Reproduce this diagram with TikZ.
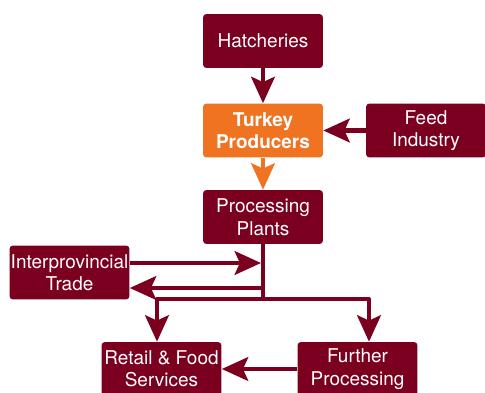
\documentclass[tikz,border=0pt]{standalone}
\usepackage{fontspec}
\setmainfont{TeX Gyre Heros}
\usetikzlibrary{arrows.meta}
\definecolor{wine}{HTML}{7B001F}
\definecolor{turkeyorange}{HTML}{F07322}

\begin{document}
\begin{tikzpicture}[x=0.02cm,y=-0.02cm,
    box/.style={fill=wine,text=white,rounded corners=2pt,inner sep=0pt,
      minimum width=2.4cm,minimum height=1.08cm,align=center,
      font=\fontsize{10.8}{12.8}\selectfont},
    hotbox/.style={box,fill=turkeyorange,font=\fontsize{10.8}{12.8}\selectfont\bfseries},
    wire/.style={draw=wine,line width=2.3pt,line join=round},
    link/.style={wire,-{Stealth[length=15pt,width=13.5pt,inset=3pt]}}]
    \clip (0,0) rectangle (485,393);
    \node[box] (hatch) at (263,41) {Hatcheries};
    \node[hotbox] (prod) at (263,130.5) {Turkey\\Producers};
    \node[box] (feed) at (426,130.5) {Feed\\Industry};
    \node[box] (plant) at (263,217) {Processing\\Plants};
    \node[box] (trade) at (69.5,272.5) {Interprovincial\\Trade};
    \node[box] (retail) at (161.5,369) {Retail \& Food\\Services};
    \node[box] (further) at (357.5,369) {Further\\Processing};
    \coordinate (tin) at (261,263);
    \coordinate (tout) at (263,288);
    \coordinate (join) at (263,299);
    \coordinate (lsplit) at (157,299);
    \coordinate (rsplit) at (369,299);
    \draw[link] (hatch) -- (prod);
    \draw[link,draw=turkeyorange] (prod) -- (plant);
    \draw[link] (feed) -- (prod);
    \draw[wire] (plant.south) -- (join);
    \draw[link] (tin -| trade.east) -- (tin);
    \draw[link] (tout) -- (tout -| trade.east);
    \draw[link] (join) -- (lsplit) -- (lsplit |- retail.north);
    \draw[link] (join) -- (rsplit) -- (rsplit |- further.north);
    \draw[link] (further) -- (retail);
  \end{tikzpicture}
\end{document}
